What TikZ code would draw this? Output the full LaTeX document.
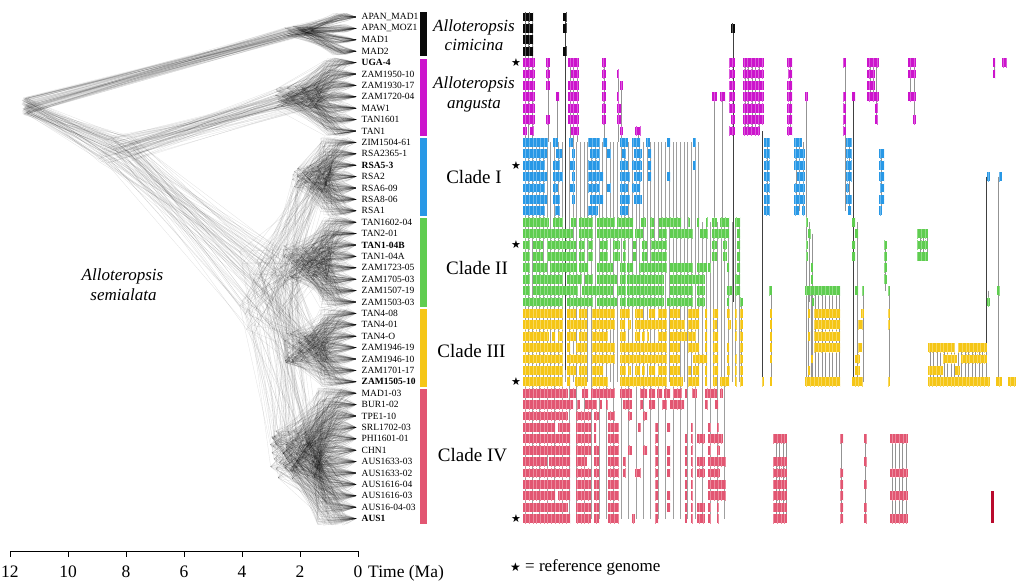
\documentclass[tikz,border=0pt]{standalone}
\usepackage{fontspec}
\setmainfont{Liberation Serif}
\newfontfamily\symfont{DejaVu Sans}
\usetikzlibrary{patterns.meta}
\definecolor{cblk}{RGB}{10,10,10}
\definecolor{cmag}{RGB}{204,20,204}
\definecolor{cblu}{RGB}{40,152,230}
\definecolor{cgrn}{RGB}{95,205,80}
\definecolor{cyel}{RGB}{245,198,22}
\definecolor{cred}{RGB}{226,86,114}
\definecolor{cdred}{RGB}{185,10,45}
\tikzset{
 tree/.style={black, opacity=0.12, line width=0.3pt},
 conn/.style={gray!85, line width=0.55pt},
 dark/.style={black!75},
 light/.style={gray!75},
 lab/.style={anchor=west, inner sep=0pt, font=\fontsize{9.5}{9.5}\selectfont},
 cladelab/.style={font=\fontsize{19}{19}\selectfont, inner sep=0pt},
 spec/.style={font=\fontsize{17}{17}\selectfont\itshape, inner sep=0pt, anchor=base},
 ticklab/.style={font=\fontsize{17.5}{17.5}\selectfont, inner sep=0pt, anchor=base},
 refstar/.style={font=\symfont\fontsize{11}{11}\selectfont, inner sep=0pt},
}
\newcommand\tipy[1]{17+(#1-1)*11.4}
\newcommand\blocks[3]{%
  \pgfmathsetmacro\yc{17+(#1-1)*11.4}%
  \foreach \a/\b in {#3}{%
    \fill[#2] (\a,\yc-4.4) rectangle (\b,\yc+4.4);
    \fill[pattern={Lines[angle=90,distance=3.7pt,line width=0.3pt]}, pattern color=white!30!#2] (\a,\yc-4.4) rectangle (\b,\yc+4.4);
  }}
\newcommand\vl[4][]{\draw[conn,#1] (#2,{17+(#3-1)*11.4}) -- (#2,{17+(#4-1)*11.4});}
\begin{document}
\begin{tikzpicture}[x=1pt,y=-1pt]
\useasboundingbox (0,0) rectangle (1024,586);

% ---------------- densitree ----------------
\pgfmathsetseed{11}
\foreach \k in {1,...,75}{
 \pgfmathsetmacro\Rx{25+3*rand}
 \pgfmathsetmacro\Ry{106+9*rand}
 \pgfmathsetmacro\Cx{298+14*rand}
 \pgfmathsetmacro\Cy{31+5*rand}
 \pgfmathsetmacro\Bx{117+20*rand}
 \pgfmathsetmacro\By{150+14*rand}
 \pgfmathsetmacro\Ax{296+22*rand}
 \pgfmathsetmacro\Ay{97+12*rand}
 \pgfmathsetmacro\Sx{268+30*rand}
 \pgfmathsetmacro\Sy{290+45*rand}
 \pgfmathsetmacro\Ix{312+20*rand}
 \pgfmathsetmacro\Iy{177+12*rand}
 \pgfmathsetmacro\IIx{306+24*rand}
 \pgfmathsetmacro\IIy{262+18*rand}
 \pgfmathsetmacro\IIIx{306+22*rand}
 \pgfmathsetmacro\IIIy{348+15*rand}
 \pgfmathsetmacro\IVx{296+26*rand}
 \pgfmathsetmacro\IVy{455+25*rand}
 \draw[tree] (\Cx,\Cy) -- (\Rx,\Ry) -- (\Bx,\By) -- (\Ax,\Ay);
 \draw[tree] (\Bx,\By) -- (\Sx,\Sy) -- (\Ix,\Iy);
 \draw[tree] (\IIx,\IIy) -- (\Sx,\Sy) -- (\IIIx,\IIIy);
 \draw[tree] (\Sx,\Sy) -- (\IVx,\IVy);
 \foreach \r in {1,...,4} {\draw[tree] (\Cx,\Cy) -- ({340+8*rand},{\tipy{\r}+4*rand}) -- (356,{\tipy{\r}});}
 \foreach \r in {5,...,11} {\draw[tree] (\Ax,\Ay) -- ({336+12*rand},{\tipy{\r}+5*rand}) -- (356,{\tipy{\r}});}
 \foreach \r in {12,...,18} {\draw[tree] (\Ix,\Iy) -- ({334+14*rand},{\tipy{\r}+6*rand}) -- (356,{\tipy{\r}});}
 \foreach \r in {19,...,26} {\draw[tree] (\IIx,\IIy) -- ({334+14*rand},{\tipy{\r}+6*rand}) -- (356,{\tipy{\r}});}
 \foreach \r in {27,...,33} {\draw[tree] (\IIIx,\IIIy) -- ({334+14*rand},{\tipy{\r}+6*rand}) -- (356,{\tipy{\r}});}
 \foreach \r in {34,...,45} {\draw[tree] (\IVx,\IVy) -- ({332+16*rand},{\tipy{\r}+7*rand}) -- (356,{\tipy{\r}});}
}

\node[spec] (sem1) at (122.5,280) {Alloteropsis};
\node[spec] (sem2) at (123.5,300) {semialata};

% ---------------- time axis ----------------
\coordinate (ax0) at (10,551);
\coordinate (ax1) at (358,551);
\draw[line width=0.6pt] (ax0) -- (ax1);
\foreach \i/\lab in {0/12,1/10,2/8,3/6,4/4,5/2,6/0}{
  \draw[line width=0.6pt] (10+58*\i,551) -- ++(0,6);
  \node[ticklab] (t\i) at (10+58*\i,577) {\lab};
}
\node[ticklab, anchor=base west] (tlab) at (368,577) {Time (Ma)};

% ---------------- sample labels ----------------
\foreach \i/\t in {1/APAN\_MAD1,2/APAN\_MOZ1,3/MAD1,4/MAD2,5/\textbf{UGA-4},6/ZAM1950-10,7/ZAM1930-17,8/ZAM1720-04,9/MAW1,10/TAN1601,11/TAN1,
  12/ZIM1504-61,13/RSA2365-1,14/\textbf{RSA5-3},15/RSA2,16/RSA6-09,17/RSA8-06,18/RSA1,
  19/TAN1602-04,20/TAN2-01,21/\textbf{TAN1-04B},22/TAN1-04A,23/ZAM1723-05,24/ZAM1705-03,25/ZAM1507-19,26/ZAM1503-03,
  27/TAN4-08,28/TAN4-01,29/TAN4-O,30/ZAM1946-19,31/ZAM1946-10,32/ZAM1701-17,33/\textbf{ZAM1505-10},
  34/MAD1-03,35/BUR1-02,36/TPE1-10,37/SRL1702-03,38/PHI1601-01,39/CHN1,40/AUS1633-03,41/AUS1633-02,42/AUS1616-04,43/AUS1616-03,44/AUS16-04-03,45/\textbf{AUS1}}{
  \node[lab] (l\i) at (361.5,{\tipy{\i}}) {\t};
}

% ---------------- clade bars ----------------
\fill[cblk] (420,12) rectangle (427,56.5);
\fill[cmag] (420,58.5) rectangle (427,136);
\fill[cblu] (420,138) rectangle (427,216);
\fill[cgrn] (420,218) rectangle (427,307);
\fill[cyel] (420,309) rectangle (427,387);
\fill[cred] (420,389) rectangle (427,523.5);

\node[spec] (cim1) at (474,31.5) {Alloteropsis};
\node[spec] (cim2) at (474,51) {cimicina};
\node[spec] (ang1) at (474,88) {Alloteropsis};
\node[spec] (ang2) at (474,108) {angusta};
\node[cladelab] (c1) at (474,177) {Clade I};
\node[cladelab] (c2) at (477,268) {Clade II};
\node[cladelab] (c3) at (471.5,351) {Clade III};
\node[cladelab] (c4) at (472.5,455) {Clade IV};

% ---------------- stars ----------------
\foreach \r in {5,14,21,33,45}{\node[refstar] (st\r) at (516,{\tipy{\r}}) {★};}
\node[anchor=base west, inner sep=0pt, font=\fontsize{17}{17}\selectfont] (legend) at (510,571) {{\symfont\fontsize{12}{12}\selectfont ★} = reference genome};

% ---------------- connectors ----------------
\foreach \x in {524.8,528.5,...,742} {\vl[light]{\x}{19}{33}}
\foreach \x in {524.8,528.5,...,700} {\vl[light]{\x}{12}{19}}
\foreach \x in {524.8,532.2,...,725} {\vl[light]{\x}{33}{45}}
\foreach \x in {525,528.5,532} {\vl{\x}{1}{12}}
\vl[dark]{565}{1}{32}
\vl[dark]{733}{2}{26}
\vl{548}{5}{12}
\vl{557.5}{8}{12}
\foreach \x in {570,573.5,577} {\vl{\x}{5}{12}}
\vl{604}{5}{12}
\vl{618}{6}{12}
\vl{621.5}{7}{12}
\vl{638}{11}{12}
\vl{714.5}{8}{19}
\vl{722.5}{8}{19}
\foreach \x in {745,748.5,...,762} {\vl{\x}{5}{11}}
\vl[dark]{762}{11}{33}
\vl{790}{5}{11}
\vl{806.5}{8}{33}
\vl{845}{5}{18}
\vl[dark]{853.5}{8}{33}
\vl{870}{5}{8}
\vl{873.5}{5}{8}
\vl{876.5}{5}{10}
\vl{910}{5}{8}
\vl{914.5}{5}{10}
\vl{994}{5}{6}
\vl{767}{12}{18}
\foreach \x in {796,799.5,803} {\vl{\x}{12}{18}}
\vl{849}{12}{18}
\vl{881.5}{13}{18}
\vl[dark]{986}{15}{31}
\vl{998.5}{15}{33}
\vl{809.5}{19}{26}
\vl{812}{20}{33}
\vl{857}{19}{33}
\vl{863}{25}{33}
\vl{885.5}{21}{25}
\vl{889}{25}{33}
\foreach \x in {920,923.5,927} {\vl{\x}{20}{22}}
\vl{771}{25}{33}
\vl{741.5}{26}{33}
\vl{988.5}{25}{26}
\foreach \x in {808,811.5,...,840} {\vl{\x}{25}{33}}
\foreach \x in {930,933.5,...,987} {\vl{\x}{30}{33}}
\foreach \x in {776,779.5,783,786} {\vl{\x}{38}{45}}
\vl{841.5}{38}{45}
\vl{865.5}{38}{45}
\foreach \x in {892,895.5,...,907} {\vl{\x}{38}{45}}

% ---------------- blocks ----------------
\blocks{1}{cblk}{523/533,563/567}
\blocks{2}{cblk}{523/533,563/567,731/735}
\blocks{3}{cblk}{523/533}
\blocks{4}{cblk}{523/533,563/567}

\blocks{5}{cmag}{523/535,546/550,568/579,602/606,729/735,743/764,787/792,843/846,867/879,908/916,993/995,1002/1007}
\blocks{6}{cmag}{523/535,546/550,571/579,602/606,617/619,729/735,743/764,788/792,867/875,908/916,993/995}
\blocks{7}{cmag}{523/535,546/550,568/579,602/606,620/623,729/735,743/764,787/792,867/875}
\blocks{8}{cmag}{523/535,556/559,568/579,602/606,617/619,712/717,720/725,729/735,743/764,787/792,805/808,843/846,852/855,867/879,908/916}
\blocks{9}{cmag}{523/535,568/579,602/606,617/621,729/735,743/764,787/792,843/846,875/878}
\blocks{10}{cmag}{523/535,546/550,568/579,602/606,617/621,731/735,743/764,787/792,843/846,875/878,913/916}
\blocks{11}{cmag}{523/527,530/534,571/579,620/623,635/641,729/735,743/760,787/792,843/846}

\blocks{12}{cblu}{523/548,553/558,569/573,588/600,603/607,620/628,632/640,646/650,667/670,693/696,764/770,794/802,846/852}
\blocks{13}{cblu}{523/547,556/562,572/575,590/600,607/611,622/626,634/642,648/651,764/770,794/805,846/852,879/884}
\blocks{14}{cblu}{523/545,553/560,570/575,588/600,620/628,632/642,648/651,693/696,764/770,794/805,846/852,879/884}
\blocks{15}{cblu}{523/547,553/563,572/575,588/603,620/630,634/642,648/651,667/670,764/770,797/805,846/852,879/884,987/990,999/1002}
\blocks{16}{cblu}{523/545,553/558,570/575,588/600,607/611,620/628,632/640,764/770,794/805,846/849,880/884}
\blocks{17}{cblu}{523/547,553/560,572/575,590/603,620/630,634/642,764/770,794/805,846/852,879/884}
\blocks{18}{cblu}{523/545,555/560,588/598,620/628,764/770,794/799,802/805,848/851,879/882}

\blocks{19}{cgrn}{523/549,553/563,571/576,579/593,597/615,617/633,641/646,650/654,659/681,688/690,697/699,706/708,712/717,720/729,735/740,806/808,852/855}
\blocks{20}{cgrn}{523/573,579/593,597/633,635/643,650/654,659/667,670/693,700/708,712/729,737/740,808/811,855/858,917/928}
\blocks{21}{cgrn}{523/530,533/543,547/576,579/585,588/593,600/608,613/620,623/626,633/636,642/647,651/667,712/717,723/727,737/740,806/808,852/855,884/887,917/928}
\blocks{22}{cgrn}{523/530,533/543,547/576,579/585,588/593,600/608,613/620,623/626,633/636,642/647,651/667,712/717,723/727,737/740,806/808,852/855,884/887,917/928}
\blocks{23}{cgrn}{523/530,533/547,550/577,579/588,597/613,620/626,627/633,639/667,670/693,697/707,708/711,727/729,737/740,811/813,884/887}
\blocks{24}{cgrn}{523/530,533/563,567/582,585/593,597/617,620/626,627/664,670/705,735/740,811/813,884/887}
\blocks{25}{cgrn}{523/530,533/578,582/613,617/626,627/664,670/693,697/705,727/732,735/740,769/772,805/840,855/858,862/864,888/890,997/1000}
\blocks{26}{cgrn}{523/563,567/593,597/617,620/626,627/664,667/693,697/705,727/729,740/743,812/814,987/990}

\blocks{27}{cyel}{523/563,567/576,579/587,592/615,620/630,635/643,649/655,658/667,670/680,688/699,705/707,713/718,727/730,735/737,740/743,770/772,808/810,814/840,861/864,888/890}
\blocks{28}{cyel}{523/563,567/587,592/615,620/625,628/631,635/667,670/685,688/699,705/707,713/717,728/731,735/737,740/743,770/772,814/840,858/863,888/890}
\blocks{29}{cyel}{523/549,552/555,558/563,567/576,579/587,592/608,620/626,635/640,642/645,647/649,658/667,670/687,688/696,705/707,713/718,735/737,740/743,770/772,808/810,814/840}
\blocks{30}{cyel}{523/563,567/570,576/587,592/615,620/667,670/680,688/699,705/707,713/718,727/729,740/743,770/772,814/840,858/862,928/955,958/987}
\blocks{31}{cyel}{523/563,567/587,592/615,620/667,670/680,693/707,713/718,727/729,735/737,740/743,770/772,811/813,855/860,943/957,961/987}
\blocks{32}{cyel}{523/563,567/576,579/587,592/603,620/626,628/631,635/640,642/645,649/655,658/667,670/680,688/691,693/699,705/707,713/718,727/730,735/737,740/743,808/810,855/860,928/943,955/960}
\blocks{33}{cyel}{523/563,567/570,575/587,592/608,620/667,670/683,688/699,705/707,713/717,720/729,735/737,740/743,762/764,770/772,805/840,852/863,888/890,928/990,996/1002,1008/1016}

\blocks{34}{cred}{523/568,570/576,582/588,591/615,620/632,640/647,649/655,657/662,664/670,673/682,685/687,692/697,705/717,720/723}
\blocks{35}{cred}{523/573,577/580,585/597,600/602,606/608,623/632,640/643,649/655,662/667,670/684,705/708,715/718}
\blocks{36}{cred}{523/568,576/591,594/599,608/615,628/632,643/647}
\blocks{37}{cred}{523/555,558/570,576/591,594/596,608/619,638/641,655/658,667/670,691/693,708/711,717/719}
\blocks{38}{cred}{523/570,576/591,594/596,608/619,655/658,685/687,691/693,697/705,708/723,773/787,840/843,864/867,890/908}
\blocks{39}{cred}{523/570,576/591,594/599,608/619,628/632,643/647,655/658,667/670,685/687,691/693,708/711,717/720}
\blocks{40}{cred}{523/547,549/570,576/587,594/599,608/619,623/626,655/658,667/670,685/687,691/693,697/705,708/726,773/787,864/867}
\blocks{41}{cred}{523/570,576/591,594/599,608/619,623/626,635/641,655/658,667/670,685/687,691/693,697/705,708/720,773/787,840/843,890/908}
\blocks{42}{cred}{523/570,576/591,594/599,608/619,655/658,685/687,691/693,708/726,773/787,840/843,864/867}
\blocks{43}{cred}{523/555,558/570,576/591,594/599,608/619,655/658,667/670,685/687,691/693,708/726,773/787,840/843,890/908}
\blocks{44}{cred}{523/568,576/591,594/599,608/619,655/658,667/670,685/687,691/693,697/705,708/711,717/719,773/787,840/843,864/867}
\blocks{45}{cred}{523/570,576/591,594/599,608/619,632/635,655/658,685/687,691/693,697/705,708/711,717/719,773/787,840/843,864/867,890/908}
\fill[cdred] (991,{\tipy{43}-4.4}) rectangle (993.5,{\tipy{45}+4.4});
\end{tikzpicture}
\end{document}
